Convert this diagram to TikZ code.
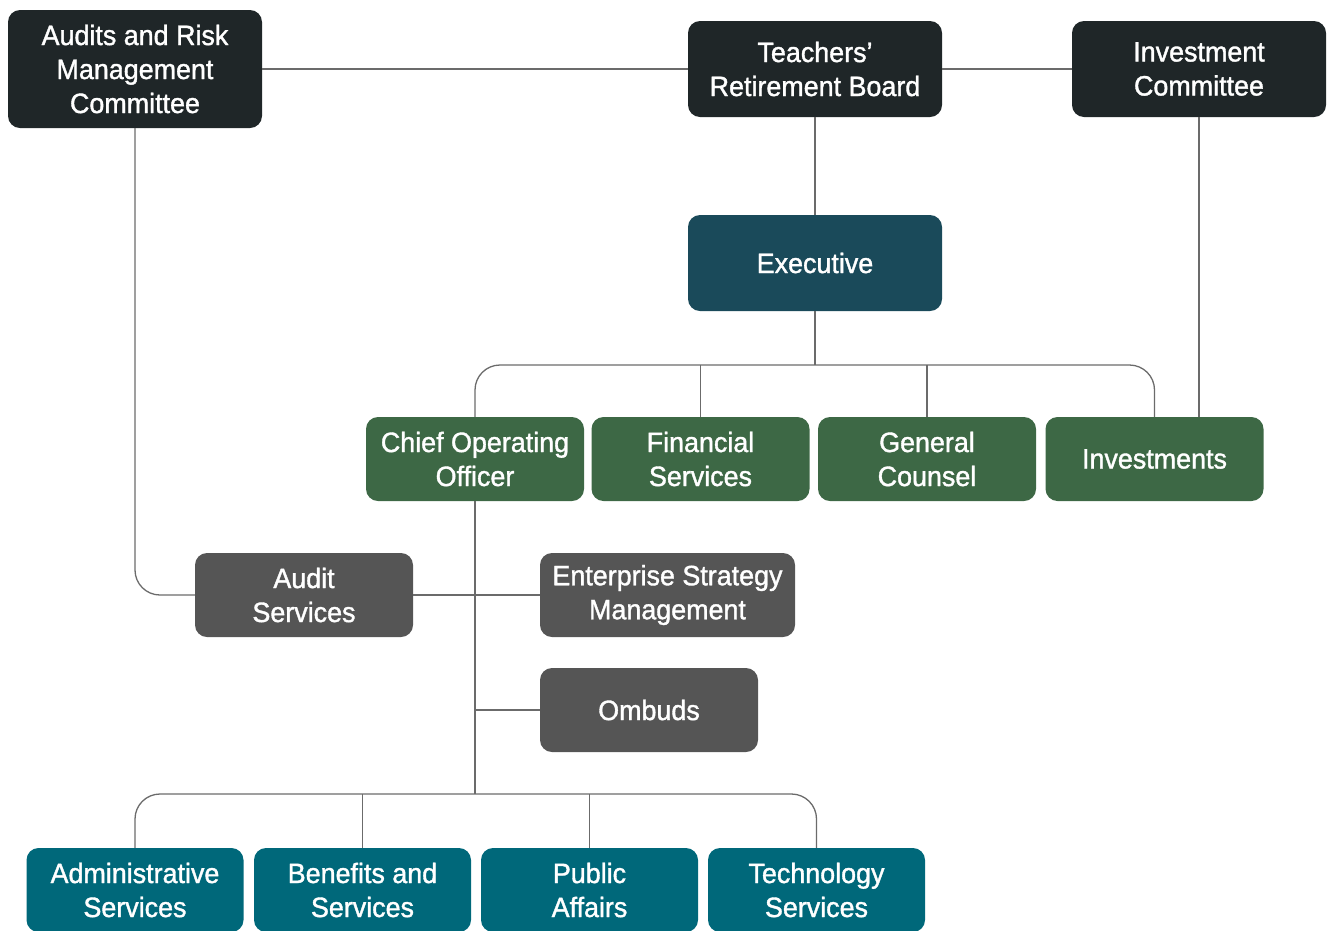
\documentclass[tikz,border=0pt]{standalone}
\usepackage{fontspec}
\setmainfont{Liberation Sans}[FakeBold=1.3, FakeStretch=0.96]
\definecolor{cdark}{HTML}{1F2628}
\definecolor{cexec}{HTML}{1A4A5A}
\definecolor{cgreen}{HTML}{3D6845}
\definecolor{cgray}{HTML}{555555}
\definecolor{cteal}{HTML}{00687A}
\definecolor{cline}{HTML}{6B6B6B}
\begin{document}
\begin{tikzpicture}[x=1pt,y=-1pt,
  box/.style={rounded corners=12pt, inner sep=0pt, align=center, text=white,
    font=\fontsize{28}{34}\selectfont},
  big/.style={box, minimum width=254pt, minimum height=96pt},
  small/.style={box, minimum width=218pt, minimum height=84pt},
  conn/.style={draw=cline, line width=1.3pt},
  roundconn/.style={conn, rounded corners=25pt}]
\useasboundingbox (0,0) rectangle (1328,930);
\node[big, fill=cdark, minimum height=118pt] (aud) at (135,69) {Audits and Risk\\Management\\Committee};
\node[big, fill=cdark] (trb) at (815,69) {Teachers’\\Retirement Board};
\node[big, fill=cdark] (ic) at (1199,69) {Investment\\Committee};
\node[big, fill=cexec] (exe) at (815,263) {Executive};
\node[small, fill=cgreen] (coo) at (475,459) {Chief Operating\\Officer};
\node[small, fill=cgreen] (fin) at (700.5,459) {Financial\\Services};
\node[small, fill=cgreen] (gc) at (927,459) {General\\Counsel};
\node[small, fill=cgreen] (inv) at (1154.5,459) {Investments};
\node[small, fill=cgray] (as) at (304,595) {Audit\\Services};
\node[small, fill=cgray, minimum width=255pt] (esm) at (667.5,595) {Enterprise Strategy\\Management};
\node[small, fill=cgray] (omb) at (649,710) {Ombuds};
\node[small, fill=cteal, minimum width=217pt] (adm) at (135,890) {Administrative\\Services};
\node[small, fill=cteal, minimum width=217pt] (ben) at (362.5,890) {Benefits and\\Services};
\node[small, fill=cteal, minimum width=217pt] (pa) at (589.5,890) {Public\\Affairs};
\node[small, fill=cteal, minimum width=217pt] (ts) at (816.5,890) {Technology\\Services};
\coordinate (bus) at (815,365);
\coordinate (bus2) at (476,794);
\draw[conn] (aud) -- (trb);
\draw[conn] (trb) -- (ic);
\draw[conn] (trb) -- (exe);
\draw[conn] (exe.south) -- (bus);
\draw[roundconn] (coo.north) |- (bus) -| (inv.north);
\draw[conn] (fin.north) -- (fin.north |- bus);
\draw[conn] (gc.north) -- (gc.north |- bus);
\draw[conn] (ic.south) -- (ic.south |- inv.north);
\draw[roundconn] (aud.south) |- (as.west);
\draw[conn] (as.east) -- (esm.west);
\draw[conn] (coo.south) -- (coo.south |- bus2);
\draw[conn] (omb.west) -- (omb.west -| coo.south);
\draw[roundconn] (adm.north) |- (bus2) -| (ts.north);
\draw[conn] (ben.north) -- (ben.north |- bus2);
\draw[conn] (pa.north) -- (pa.north |- bus2);
\end{tikzpicture}
\end{document}
